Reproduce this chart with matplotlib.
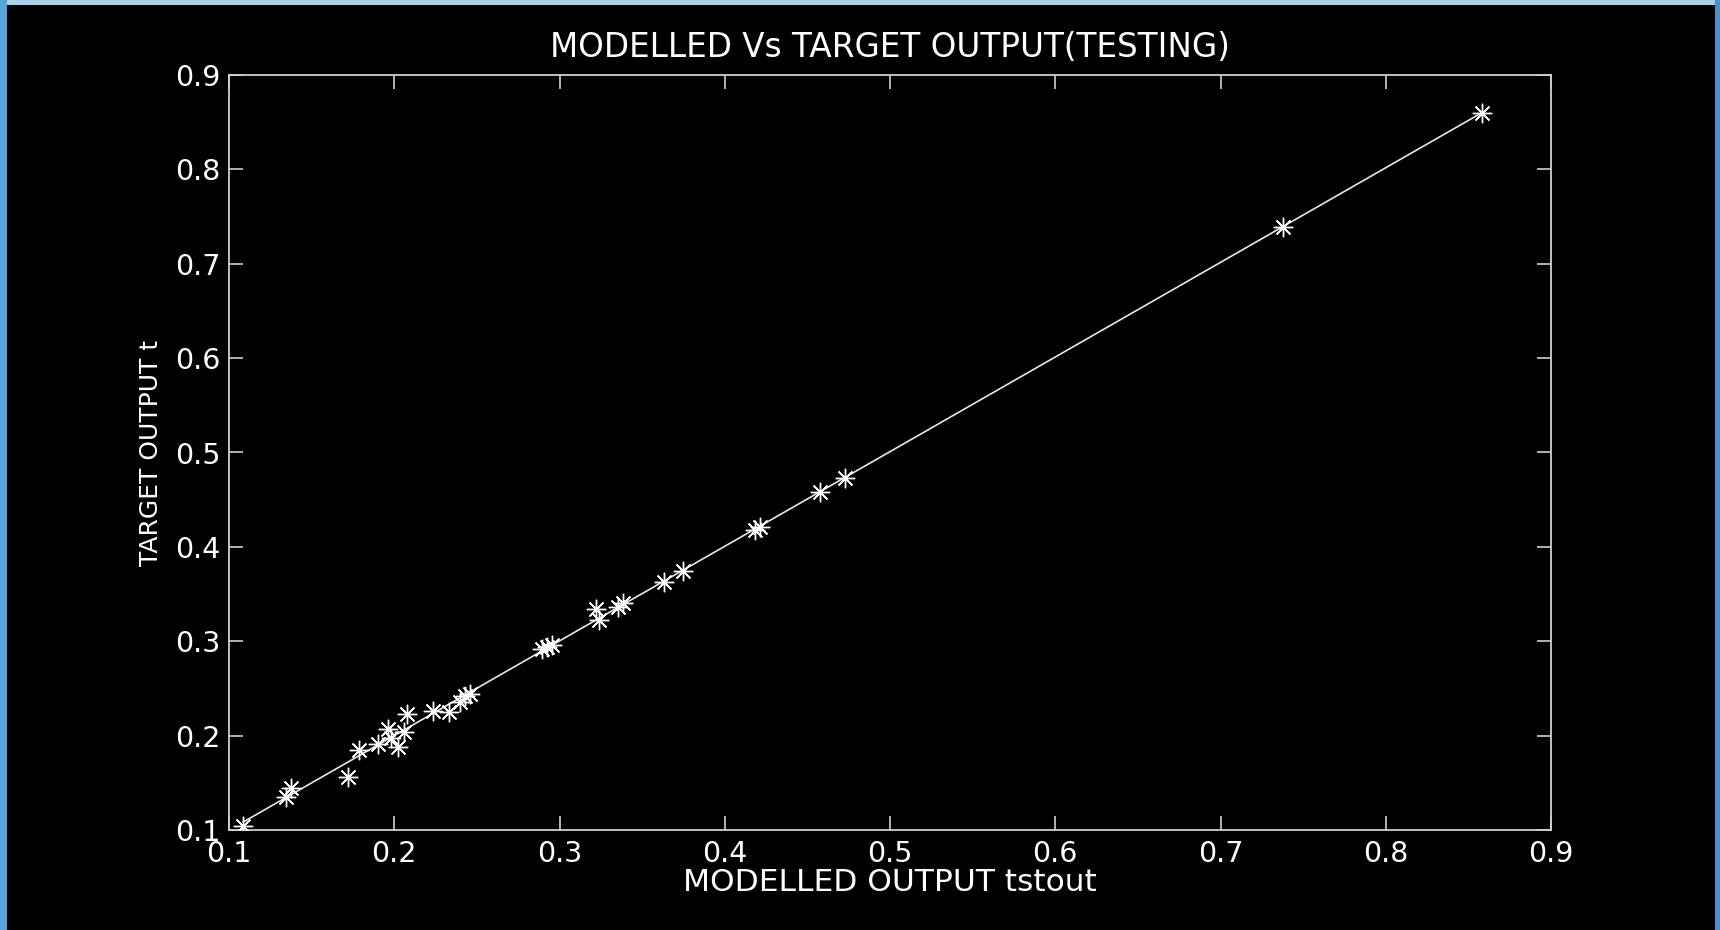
import numpy as np
import matplotlib
matplotlib.use("Agg")
import matplotlib.pyplot as plt
from matplotlib.patches import Rectangle

# Modelled output (tstout) and target output (t) for the test set
tstout = [0.1087, 0.1345, 0.1375, 0.1720, 0.1789, 0.1900, 0.1964, 0.1978,
          0.2024, 0.2059, 0.2075, 0.2237, 0.2334, 0.2397, 0.2430, 0.2456,
          0.2892, 0.2925, 0.2953, 0.3221, 0.3241, 0.3356, 0.3387, 0.3633,
          0.3750, 0.4183, 0.4213, 0.4576, 0.4727, 0.7380, 0.8580]
target = [0.1046, 0.1347, 0.1450, 0.1560, 0.1848, 0.1908, 0.2067, 0.1978,
          0.1883, 0.2035, 0.2226, 0.2264, 0.2255, 0.2360, 0.2425, 0.2437,
          0.2915, 0.2935, 0.2960, 0.3339, 0.3225, 0.3366, 0.3402, 0.3631,
          0.3747, 0.4179, 0.4214, 0.4585, 0.4725, 0.7393, 0.8594]

xticks = [0.1, 0.2, 0.3, 0.4, 0.5, 0.6, 0.7, 0.8, 0.9]
yticks = [0.1, 0.2, 0.3, 0.4, 0.5, 0.6, 0.7, 0.8, 0.9]

plt.rcParams['font.family'] = ['DejaVu Sans']

fig = plt.figure(figsize=(17.2, 9.3), dpi=100, facecolor='black')
# slide-style border: light top band and blue side strips around the black panel
fig.patches.append(Rectangle((0, 925 / 930), 1, 5 / 930, transform=fig.transFigure,
                             facecolor='#a6d2ea', edgecolor='none', zorder=-5))
fig.patches.append(Rectangle((0, 0), 7 / 1720, 1, transform=fig.transFigure,
                             facecolor='#5aa6da', edgecolor='none', zorder=-5))
fig.patches.append(Rectangle((1715 / 1720, 0), 5 / 1720, 1, transform=fig.transFigure,
                             facecolor='#4592d2', edgecolor='none', zorder=-5))

ax = fig.add_axes([229 / 1720, 1 - 830 / 930, 1322 / 1720, 755 / 930])
ax.set_facecolor('black')

x = np.array(tstout)
y = np.array(target)
p = np.polyfit(x, y, 1)
xs = np.sort(x)
ax.plot(xs, np.polyval(p, xs), color='#e8e8e8', lw=1.2, zorder=2)
ax.plot(x, y, linestyle='none', marker=(8, 2, 0), markersize=14,
        markeredgewidth=1.0, color='white', markeredgecolor='white', zorder=3)

ax.set_xlim(0.1, 0.9)
ax.set_ylim(0.1, 0.9)
ax.set_xticks(xticks)
ax.set_yticks(yticks)
ax.set_xticklabels([f"{v:g}" for v in xticks])
ax.set_yticklabels([f"{v:g}" for v in yticks])

for s in ax.spines.values():
    s.set_color('#d0d0d0')
    s.set_linewidth(1.3)
ax.tick_params(direction='in', length=10, width=1.2, color='#d0d0d0',
               top=True, right=True, labelcolor='white', labelsize=20.5)
ax.tick_params(axis='y', pad=6)
ax.tick_params(axis='x', pad=7)

ax.set_title('MODELLED Vs TARGET OUTPUT(TESTING)', color='white', fontsize=23.5, pad=13)
ax.set_xlabel('MODELLED OUTPUT tstout', color='white', fontsize=22.5, labelpad=0)
ax.set_ylabel('TARGET OUTPUT t', color='white', fontsize=18, labelpad=9)

fig.savefig('out.png', dpi=100, facecolor=fig.get_facecolor())
